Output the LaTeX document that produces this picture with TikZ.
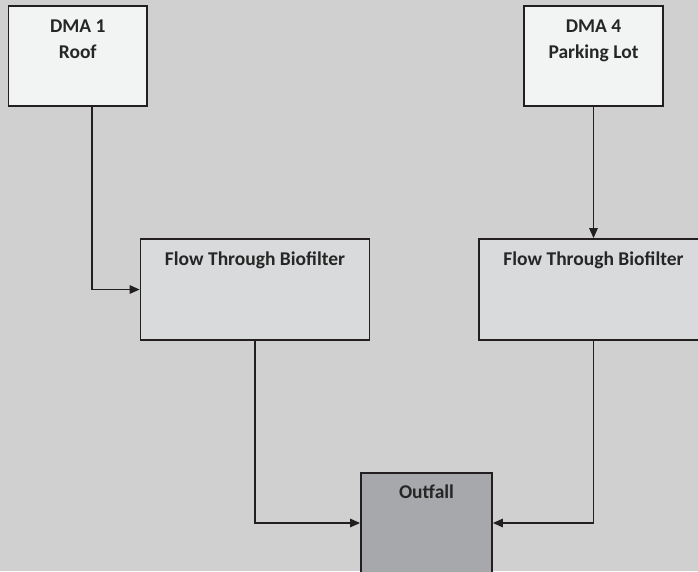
\documentclass[tikz,border=0pt]{standalone}
\usepackage{fontspec}
\setmainfont{Carlito}
\usetikzlibrary{arrows.meta}

\definecolor{bggray}{HTML}{D0D0D0}
\definecolor{edgegray}{HTML}{231F20}
\definecolor{textgray}{HTML}{262626}
\definecolor{areafill}{HTML}{F2F4F4}
\definecolor{filterfill}{HTML}{D9DADC}
\definecolor{outfallfill}{HTML}{A7A8AB}

\tikzset{
  box/.style={draw=edgegray, line width=1.8pt, inner sep=0pt},
  areabox/.style={box, fill=areafill, minimum width=138.5pt, minimum height=100pt},
  filterbox/.style={box, fill=filterfill, minimum width=229pt, minimum height=101pt},
  outfallbox/.style={box, fill=outfallfill, minimum width=131pt, minimum height=100pt},
  title/.style={anchor=north, inner sep=0pt, align=center, text=textgray,
    font=\bfseries\fontsize{19.5}{26}\selectfont},
  flow/.style={draw=edgegray, line width=1.4pt, -{Triangle[length=10pt,width=8.5pt]}}
}

\begin{document}
\begin{tikzpicture}[x=1pt,y=-1pt]
  \clip (0,0) rectangle (698,571);
  \fill[bggray] (0,0) rectangle (698,571);

  % boxes
  \node[areabox] (dma1) at (77.75, 56) {};
  \node[areabox] (dma4) at (593.5, 56) {};
  \node[filterbox] (bf1) at (255, 289.5) {};
  \node[filterbox] (bf4) at (593.5, 289.5) {};
  \node[outfallbox] (outfall) at (426.5, 523) {};

  % titles
  \node[title] at ([yshift=-14.5pt]dma1.north) {DMA 1\\Roof};
  \node[title] at ([yshift=-14.5pt]dma4.north) {DMA 4\\Parking Lot};
  \node[title] at ([yshift=-13.5pt]bf1.north) {Flow Through Biofilter};
  \node[title] at ([yshift=-13.5pt]bf4.north) {Flow Through Biofilter};
  \node[title] at ([yshift=-12.5pt]outfall.north) {Outfall};

  % connectors
  \draw[flow] ([xshift=14.25pt]dma1.south) |- (bf1.west);
  \draw[flow] (dma4.south) -- (bf4.north);
  \draw[flow] (bf1.south) |- (outfall.west);
  \draw[flow] (bf4.south) |- (outfall.east);
\end{tikzpicture}
\end{document}
